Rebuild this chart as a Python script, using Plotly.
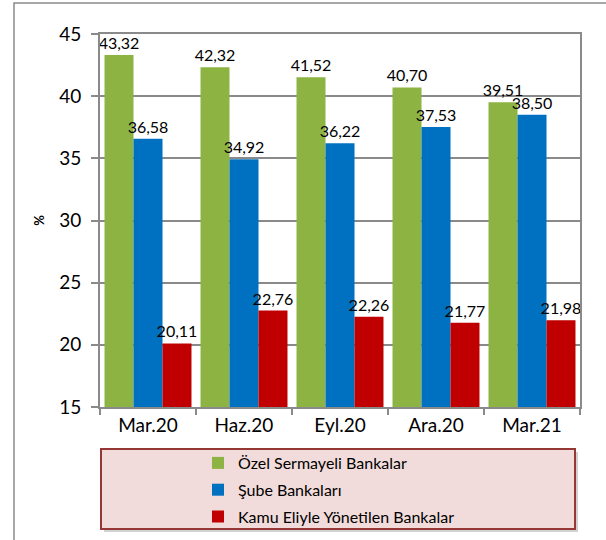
import plotly.graph_objects as go

categories = ["Mar.20", "Haz.20", "Eyl.20", "Ara.20", "Mar.21"]
ozel = [43.32, 42.32, 41.52, 40.70, 39.51]
sube = [36.58, 34.92, 36.22, 37.53, 38.50]
kamu = [20.11, 22.76, 22.26, 21.77, 21.98]
series_names = ["Özel Sermayeli Bankalar", "Şube Bankaları", "Kamu Eliyle Yönetilen Bankalar"]
y_ticks = [15, 20, 25, 30, 35, 40, 45]

FONT = "Lato, Carlito, Calibri, sans-serif"
W, H = 606, 540
L, R, T, B = 100, 26, 34, 133
PW, PH = W - L - R, H - T - B

def px(x):
    return (x - L) / PW

def py(y):
    return (H - B - y) / PH

colors = ["#8DB443", "#0070C0", "#C00000"]
fig = go.Figure()
for name, vals, col, grp in zip(series_names, [ozel, sube, kamu], colors, ["a", "b", "c"]):
    fig.add_trace(go.Bar(
        x=categories, y=vals, name=name, legendgroup=grp,
        marker=dict(color=col, line=dict(width=0)),
        texttemplate="%{y:.2f}", textposition="outside", constraintext="none",
        textfont=dict(family=FONT, size=16, color="#000000"),
        cliponaxis=False,
    ))

shapes = [
    # outer frame
    dict(type="rect", xref="paper", yref="paper", x0=px(14), x1=px(640), y0=py(600), y1=py(3),
         line=dict(color="#8A8A8A", width=1.5), fillcolor="rgba(0,0,0,0)", layer="below"),
    # legend shadow
    dict(type="rect", xref="paper", yref="paper", x0=px(104), x1=px(578), y0=py(532), y1=py(452),
         line=dict(width=0), fillcolor="rgba(0,0,0,0.18)", layer="below"),
    # legend box
    dict(type="rect", xref="paper", yref="paper", x0=px(101), x1=px(575), y0=py(529), y1=py(449),
         line=dict(color="#953735", width=2), fillcolor="#F2DCDB", layer="below"),
]

fig.update_layout(
    width=W, height=H,
    margin=dict(l=L, r=R, t=T, b=B, autoexpand=False),
    paper_bgcolor="white", plot_bgcolor="white",
    separators=",.",
    barmode="group", bargap=0.094, bargroupgap=0,
    font=dict(family=FONT, color="#000000"),
    showlegend=True,
    legend=dict(
        x=px(198), y=py(446), xanchor="left", yanchor="top",
        bgcolor="rgba(0,0,0,0)", borderwidth=0,
        font=dict(family=FONT, size=16, color="#000000"),
        traceorder="grouped", tracegroupgap=3,
    ),
    shapes=shapes,
    xaxis=dict(
        type="category", tickson="boundaries", ticks="outside", ticklen=6,
        tickcolor="#8A8A8A", tickwidth=1.5,
        showline=True, linecolor="#8A8A8A", linewidth=2, mirror=True,
        showgrid=False, automargin=False,
        tickfont=dict(family=FONT, size=19, color="#000000"),
    ),
    yaxis=dict(
        range=[15, 45], tickvals=y_ticks, ticks="outside", ticklen=7,
        tickcolor="#8A8A8A", tickwidth=1.5,
        showline=True, linecolor="#8A8A8A", linewidth=2, mirror=True,
        showgrid=True, gridcolor="#8A8A8A", gridwidth=1.5,
        zeroline=False, automargin=False,
        tickfont=dict(family=FONT, size=19, color="#000000"),
        ticklabelstandoff=6,
        title=dict(text="<b>%</b>", font=dict(family=FONT, size=13, color="#000000"), standoff=12),
    ),
)

fig.write_html(
    "out.html",
    config={"displayModeBar": False},
    post_script="document.body.style.margin='0';document.body.style.overflow='hidden';",
)
